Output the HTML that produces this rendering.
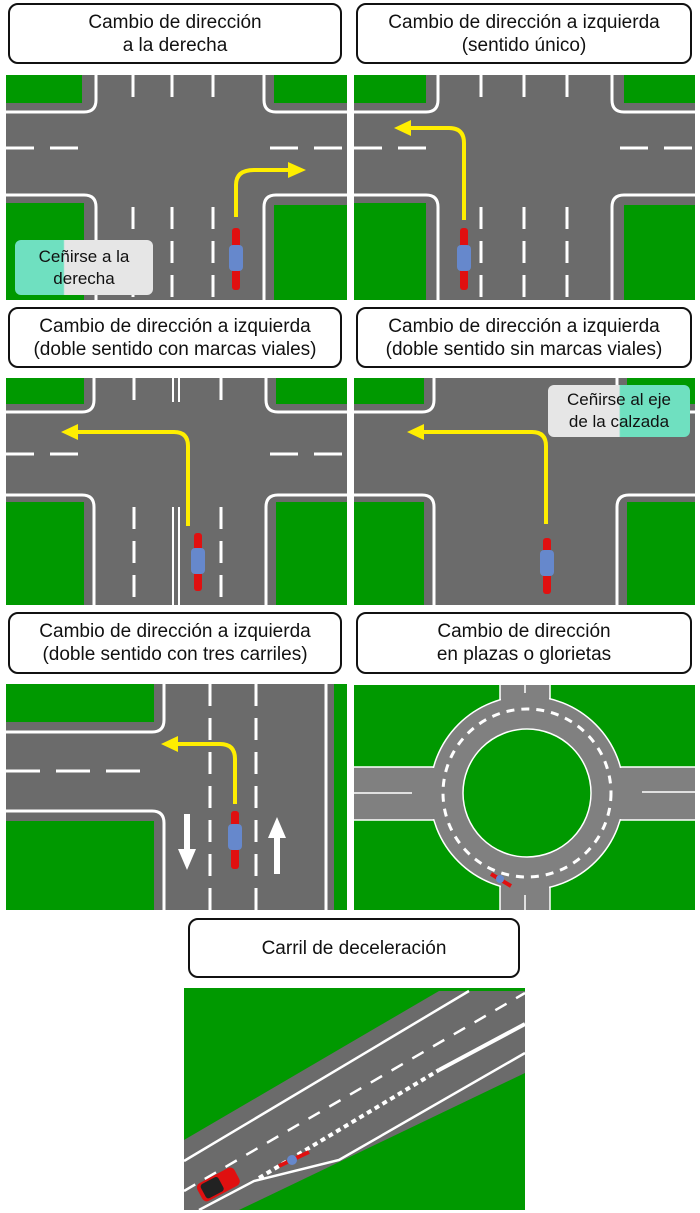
<!DOCTYPE html><html><head><meta charset="utf-8"><style>
body{margin:0;width:700px;height:1213px;background:#fff;position:relative;overflow:hidden;font-family:"Liberation Sans",sans-serif}
.lb{position:absolute;border:2px solid #111;border-radius:10px;box-sizing:border-box;text-align:center;font-size:19px;line-height:23px;color:#111;display:flex;align-items:center;justify-content:center;background:#fff}
svg{position:absolute}
.tag{position:absolute;border-radius:6px;font-size:17px;line-height:22px;text-align:center;color:#111;background:linear-gradient(90deg,#6fe0c0 0,#6fe0c0 35%,#e6e6e6 36%)}
</style></head><body>
<div class="lb" style="left:8px;top:3px;width:334px;height:61px">Cambio de dirección<br>a la derecha</div>
<div class="lb" style="left:356px;top:3px;width:336px;height:61px">Cambio de dirección a izquierda<br>(sentido único)</div>
<div class="lb" style="left:8px;top:307px;width:334px;height:61px">Cambio de dirección a izquierda<br>(doble sentido con marcas viales)</div>
<div class="lb" style="left:356px;top:307px;width:336px;height:61px">Cambio de dirección a izquierda<br>(doble sentido sin marcas viales)</div>
<div class="lb" style="left:8px;top:612px;width:334px;height:62px">Cambio de dirección a izquierda<br>(doble sentido con tres carriles)</div>
<div class="lb" style="left:356px;top:612px;width:336px;height:62px">Cambio de dirección<br>en plazas o glorietas</div>
<div class="lb" style="left:188px;top:918px;width:332px;height:60px">Carril de deceleración</div>

<!-- Panel 1 -->
<svg style="left:6px;top:75px" width="341" height="225" viewBox="0 0 341 225">
<rect width="341" height="225" fill="#6b6b6b"/>
<g fill="#009900"><rect x="0" y="0" width="76" height="28"/><rect x="268" y="0" width="73" height="28"/><rect x="0" y="128" width="78" height="97"/><rect x="268" y="130" width="73" height="95"/></g>
<g fill="none" stroke="#fff" stroke-width="3">
<path d="M0 37H78Q90 37 90 25V0"/><path d="M341 37H270Q258 37 258 25V0"/>
<path d="M0 120H78Q90 120 90 132V225"/><path d="M341 120H270Q258 120 258 132V225"/>
<path d="M127 0V22M166 0V22M207 0V22M127 132V225M166 132V225M207 132V225" stroke-dasharray="22 12"/>
<path d="M0 73H80M264 73H341" stroke-dasharray="28 16"/>
</g>
<path d="M230 142V110Q230 95 248 95H285" fill="none" stroke="#ffee00" stroke-width="4"/><path d="M282 87L300 95L282 103Z" fill="#ffee00"/>
<rect x="226" y="153" width="8" height="62" rx="3" fill="#e01010"/><rect x="223" y="170" width="14" height="26" rx="4" fill="#6688cc"/>
</svg>
<div class="tag" style="left:15px;top:240px;width:138px;height:55px;display:flex;align-items:center;justify-content:center">Ceñirse a la<br>derecha</div>

<!-- Panel 2 -->
<svg style="left:354px;top:75px" width="341" height="225" viewBox="0 0 341 225">
<rect width="341" height="225" fill="#6b6b6b"/>
<g fill="#009900"><rect x="0" y="0" width="72" height="28"/><rect x="270" y="0" width="71" height="28"/><rect x="0" y="128" width="72" height="97"/><rect x="270" y="130" width="71" height="95"/></g>
<g fill="none" stroke="#fff" stroke-width="3">
<path d="M0 37H72Q84 37 84 25V0"/><path d="M341 37H270Q258 37 258 25V0"/>
<path d="M0 120H72Q84 120 84 132V225"/><path d="M341 120H270Q258 120 258 132V225"/>
<path d="M127 0V22M170 0V22M213 0V22M127 132V225M170 132V225M213 132V225" stroke-dasharray="22 12"/>
<path d="M0 73H76M266 73H341" stroke-dasharray="28 16"/>
</g>
<path d="M110 145V68Q110 53 95 53H55" fill="none" stroke="#ffee00" stroke-width="4"/><path d="M57 45L40 53L57 61Z" fill="#ffee00"/>
<rect x="106" y="153" width="8" height="62" rx="3" fill="#e01010"/><rect x="103" y="170" width="14" height="26" rx="4" fill="#6688cc"/>
</svg>

<!-- Panel 3 -->
<svg style="left:6px;top:378px" width="341" height="227" viewBox="0 0 341 227">
<rect width="341" height="227" fill="#6b6b6b"/>
<g fill="#009900"><rect x="0" y="0" width="78" height="26"/><rect x="270" y="0" width="71" height="26"/><rect x="0" y="124" width="78" height="103"/><rect x="270" y="124" width="71" height="103"/></g>
<g fill="none" stroke="#fff" stroke-width="3">
<path d="M0 34H76Q88 34 88 22V0"/><path d="M341 34H272Q260 34 260 22V0"/>
<path d="M0 117H76Q88 117 88 129V227"/><path d="M341 117H272Q260 117 260 129V227"/>
<path d="M128 0V22M215 0V22M128 129V227M215 129V227" stroke-dasharray="22 12"/>
<path d="M167 0V24M173 0V24M167 129V227M173 129V227" stroke-width="2"/>
<path d="M0 76H80M264 76H341" stroke-dasharray="28 16"/>
</g>
<path d="M182 148V68Q182 54 168 54H70" fill="none" stroke="#ffee00" stroke-width="4"/><path d="M72 46L55 54L72 62Z" fill="#ffee00"/>
<rect x="188" y="155" width="8" height="58" rx="3" fill="#e01010"/><rect x="185" y="170" width="14" height="26" rx="4" fill="#6688cc"/>
</svg>

<!-- Panel 4 -->
<svg style="left:354px;top:378px" width="341" height="227" viewBox="0 0 341 227">
<rect width="341" height="227" fill="#6b6b6b"/>
<g fill="#009900"><rect x="0" y="0" width="70" height="26"/><rect x="273" y="0" width="68" height="26"/><rect x="0" y="124" width="70" height="103"/><rect x="273" y="124" width="68" height="103"/></g>
<g fill="none" stroke="#fff" stroke-width="3">
<path d="M0 34H68Q80 34 80 22V0"/><path d="M341 34H275Q263 34 263 22V0"/>
<path d="M0 117H68Q80 117 80 129V227"/><path d="M341 117H275Q263 117 263 129V227"/>
</g>
<path d="M192 146V68Q192 54 178 54H68" fill="none" stroke="#ffee00" stroke-width="4"/><path d="M70 46L53 54L70 62Z" fill="#ffee00"/>
<rect x="189" y="160" width="8" height="56" rx="3" fill="#e01010"/><rect x="186" y="172" width="14" height="26" rx="4" fill="#6688cc"/>
</svg>
<div class="tag" style="left:548px;top:385px;width:142px;height:52px;display:flex;align-items:center;justify-content:center;background:linear-gradient(90deg,#e6e6e6 0,#e6e6e6 50%,#6fe0c0 51%)">Ceñirse al eje<br>de la calzada</div>

<!-- Panel 5 -->
<svg style="left:6px;top:684px" width="341" height="226" viewBox="0 0 341 226">
<rect width="341" height="226" fill="#6b6b6b"/>
<g fill="#009900"><rect x="0" y="0" width="148" height="38"/><rect x="0" y="137" width="148" height="89"/><rect x="328" y="0" width="13" height="226"/></g>
<g fill="none" stroke="#fff" stroke-width="3">
<path d="M0 48H146Q158 48 158 36V0"/><path d="M0 127H146Q158 127 158 139V226"/><path d="M320 0V226"/>
<path d="M204 0V226M250 0V226" stroke-dasharray="22 12"/>
<path d="M0 87H136" stroke-dasharray="34 16"/>
</g>
<path d="M229 120V75Q229 60 214 60H170" fill="none" stroke="#ffee00" stroke-width="4"/><path d="M172 52L155 60L172 68Z" fill="#ffee00"/>
<rect x="225" y="127" width="8" height="58" rx="3" fill="#e01010"/><rect x="222" y="140" width="14" height="26" rx="4" fill="#6688cc"/>
<path d="M178 130V165H172L181 186L190 165H184V130Z" fill="#fff"/><path d="M268 190V154H262L271 133L280 154H274V190Z" fill="#fff"/>
</svg>

<!-- Panel 6 -->
<svg style="left:354px;top:685px" width="341" height="225" viewBox="0 0 341 225">
<rect width="341" height="225" fill="#009900"/>
<g fill="#808080" stroke="#fff" stroke-width="1.5">
<rect x="-5" y="82" width="351" height="53"/><rect x="146" y="-5" width="50" height="235"/>
<circle cx="173" cy="108" r="97"/>
</g>
<rect x="0" y="83" width="341" height="51" fill="#808080"/><rect x="147" y="0" width="48" height="225" fill="#808080"/>
<circle cx="173" cy="108" r="84" fill="none" stroke="#fff" stroke-width="3" stroke-dasharray="8 7"/>
<circle cx="173" cy="108" r="64" fill="#009900" stroke="#fff" stroke-width="1.5"/>
<path d="M0 108H58M288 107H341M171 0V8M171 210V225" stroke="#fff" stroke-width="1.5"/>
<path d="M137 189L157 201" stroke="#e01010" stroke-width="4"/><circle cx="146" cy="194" r="4" fill="#6688cc"/>
</svg>

<!-- Panel 7 -->
<svg style="left:184px;top:988px" width="341" height="222" viewBox="0 0 341 222">
<rect width="341" height="222" fill="#009900"/>
<polygon points="0,152 255,3 341,3 341,85 55,222 0,222" fill="#6b6b6b"/>
<g fill="none" stroke="#fff" stroke-width="2.5">
<path d="M0 173L285 3"/>
<path d="M0 203L341 5" stroke-dasharray="13 11"/>
<path d="M75 190L255 82" stroke-dasharray="5 4" stroke-width="4"/>
<path d="M255 82L341 36" stroke-width="4"/>
<path d="M15 222L70 193L155 172L341 65"/>
</g>
<g transform="rotate(-28 33 196)"><rect x="13" y="187" width="42" height="20" rx="5" fill="#e01010"/><rect x="17" y="189" width="20" height="16" rx="3" fill="#222"/></g>
<path d="M95 178L125 164" stroke="#e01010" stroke-width="4"/><circle cx="108" cy="172" r="5" fill="#6688cc"/>
</svg>
</body></html>
